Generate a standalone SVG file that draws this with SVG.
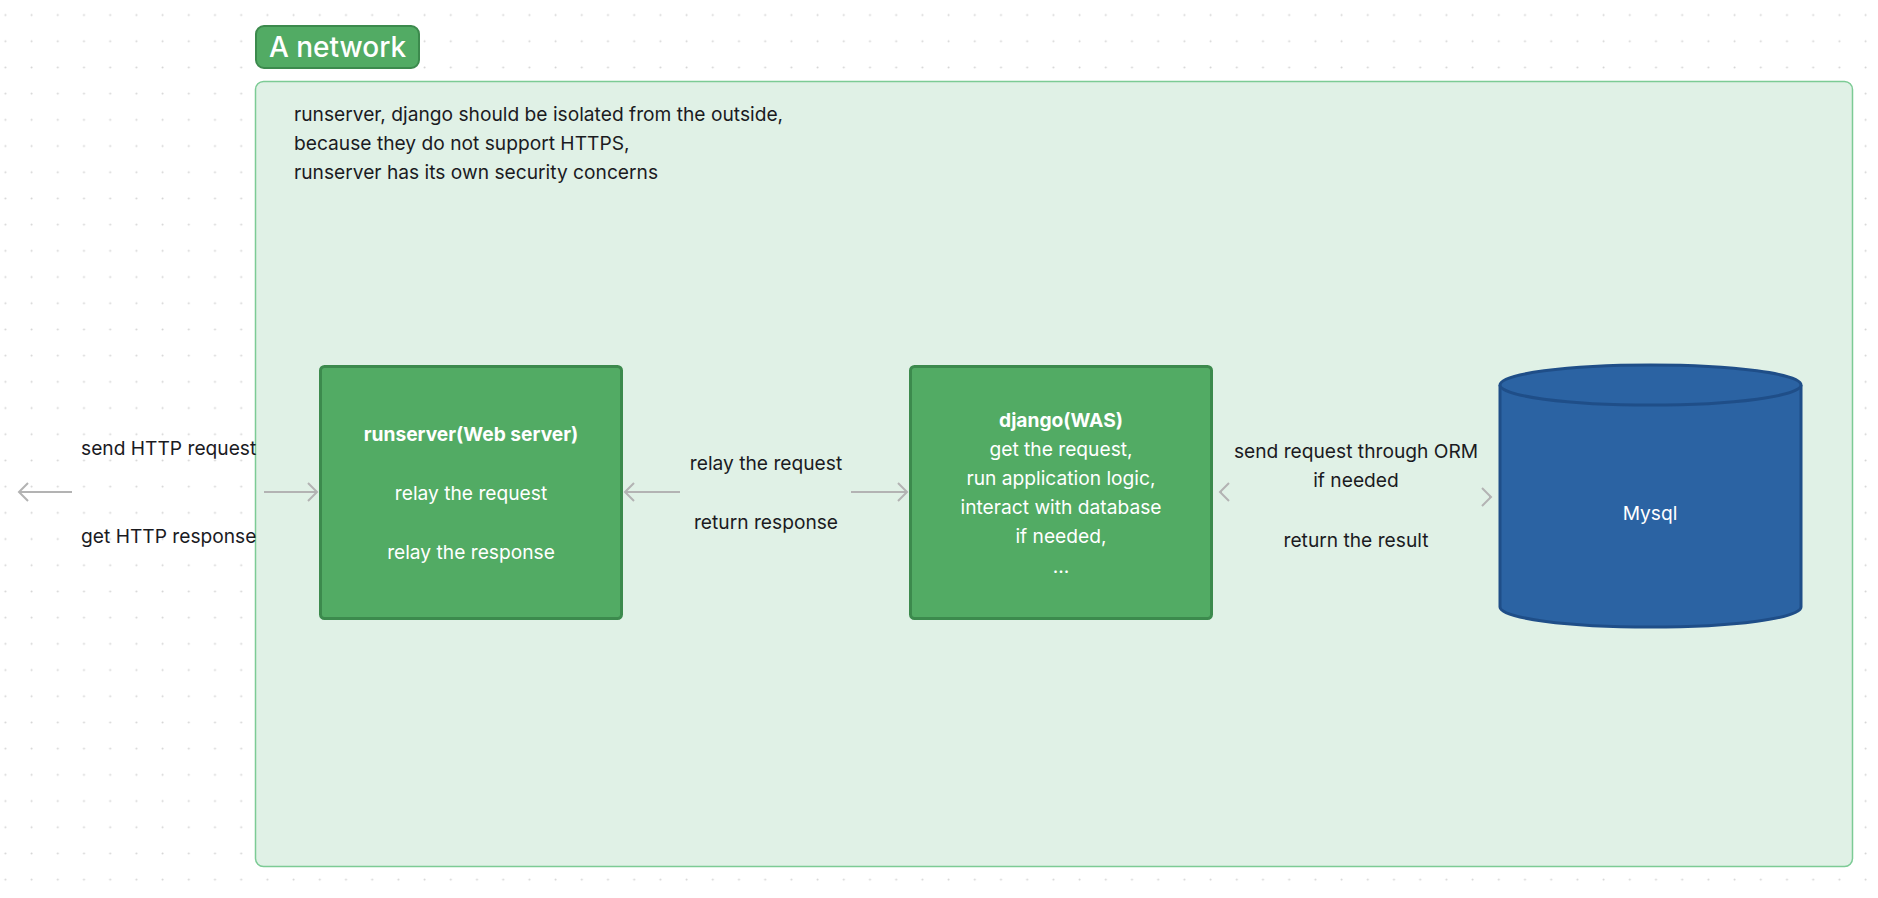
<svg xmlns="http://www.w3.org/2000/svg" width="1878" height="898" viewBox="0 0 1878 898">
<style>
.t{font-family:Inter,"Noto Sans","Liberation Sans",sans-serif;font-size:19.2px;fill:#1b1b1f}
.w{font-family:Inter,"Noto Sans","Liberation Sans",sans-serif;font-size:19.2px;fill:#ffffff;text-anchor:middle}
.b{font-weight:700}
.c{text-anchor:middle}
.box{fill:#52ab64;stroke:#3c8a4d;stroke-width:3}
.conn{stroke:#b3b3b3;stroke-width:2;fill:none;marker-end:url(#arr)}
</style>
<defs>
<pattern id="dots" x="0" y="0" width="26.2" height="26.2" patternUnits="userSpaceOnUse">
<circle cx="5.4" cy="15" r="1" fill="#d4d4d4"/>
</pattern>
<marker id="arr" markerUnits="userSpaceOnUse" markerWidth="20" markerHeight="20" viewBox="0 0 20 20" refX="10" refY="10" orient="auto">
<path d="M1,1 L10,10 L1,19" fill="none" stroke="#b3b3b3" stroke-width="2"/>
</marker>
</defs>
<rect width="1878" height="898" fill="#ffffff"/>
<rect width="1878" height="898" fill="url(#dots)"/>
<g id="network">
<rect x="255.5" y="81.5" width="1597" height="785" rx="8" fill="#e0f1e6" stroke="#7ccb95" stroke-width="1.5"/>
<text class="t" x="294" y="121">runserver, django should be isolated from the outside,</text>
<text class="t" x="294" y="150">because they do not support HTTPS,</text>
<text class="t" x="294" y="179">runserver has its own security concerns</text>
</g>
<g id="badge">
<rect x="256" y="26" width="163" height="42" rx="8" fill="#52ab64" stroke="#3c8a4d" stroke-width="2"/>
<text x="337.5" y="57" text-anchor="middle" font-family="Inter,'Noto Sans','Liberation Sans',sans-serif" font-size="28" font-weight="500" fill="#ffffff">A network</text>
</g>
<g id="connectors">
<path class="conn" d="M72,492 L19,492"/>
<path class="conn" d="M264,492 L317,492"/>
<path class="conn" d="M680,492 L625,492"/>
<path class="conn" d="M851,492 L907,492"/>
<path class="conn" d="M1222,492 L1220,492"/>
<path class="conn" d="M1489,497 L1491,497"/>
</g>
<g id="labels">
<text class="t" x="81" y="455">send HTTP request</text>
<text class="t" x="81" y="543">get HTTP response</text>
<text class="t c" x="766" y="470">relay the request</text>
<text class="t c" x="766" y="529">return response</text>
<text class="t c" x="1356" y="458">send request through ORM</text>
<text class="t c" x="1356" y="487">if needed</text>
<text class="t c" x="1356" y="547">return the result</text>
</g>
<g id="runserver">
<rect class="box" x="320.5" y="366.5" width="301" height="252" rx="4"/>
<text class="w b" x="471" y="441">runserver(Web server)</text>
<text class="w" x="471" y="500">relay the request</text>
<text class="w" x="471" y="559">relay the response</text>
</g>
<g id="django">
<rect class="box" x="910.5" y="366.5" width="301" height="252" rx="4"/>
<text class="w b" x="1061" y="427">django(WAS)</text>
<text class="w" x="1061" y="456">get the request,</text>
<text class="w" x="1061" y="485">run application logic,</text>
<text class="w" x="1061" y="514">interact with database</text>
<text class="w" x="1061" y="543">if needed,</text>
<text class="w" x="1061" y="573">...</text>
</g>
<g id="mysql">
<path d="M1500,385 L1500,607 A150,20 0 0 0 1801,607 L1801,385" fill="#2b63a3" stroke="#1f4e88" stroke-width="3"/>
<ellipse cx="1650.5" cy="385" rx="150.5" ry="20" fill="#2b63a3" stroke="#1f4e88" stroke-width="3"/>
<text class="w" x="1650" y="520">Mysql</text>
</g>
</svg>
